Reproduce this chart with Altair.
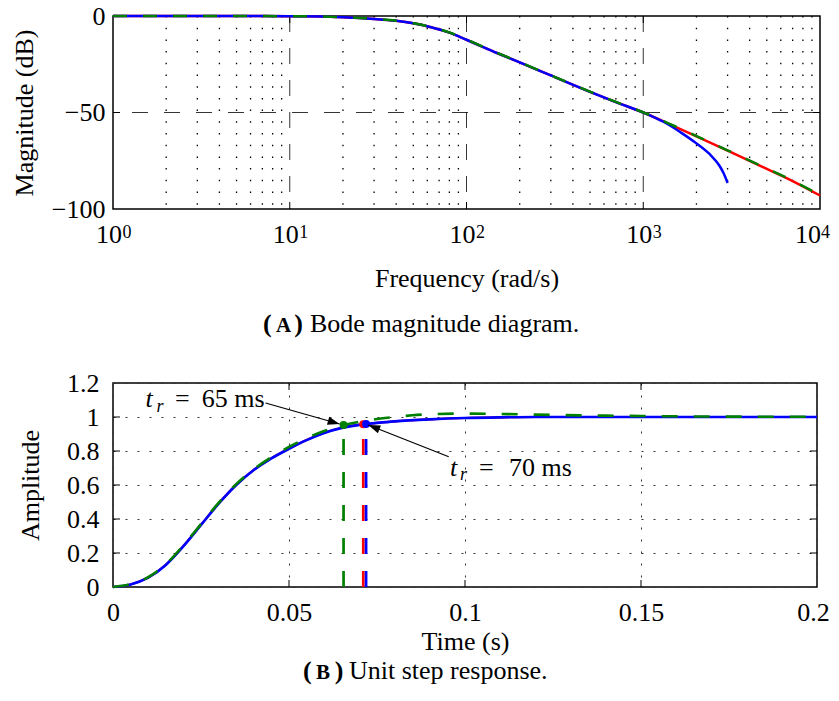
import math
import altair as alt
import pandas as pd

FONT = "Liberation Serif"

# ---------------- (A) Bode magnitude diagram ----------------
bode_freq = [1, 2, 5, 10, 15, 20, 25, 30, 40, 50, 63, 80, 100, 150, 200, 300,
             500, 700, 1000, 1500, 2000, 3000, 5000, 7000, 10000]
mag_red = [0, 0, -0.02, -0.1, -0.25, -0.6, -1.0, -1.5, -2.5, -3.8, -5.8, -8.6,
           -12.3, -19.3, -24.0, -30.8, -39.3, -44.6, -50.0, -57.2, -62.4,
           -69.8, -79.2, -85.5, -93.0]
mag_green = [0, 0, -0.02, -0.1, -0.25, -0.6, -1.0, -1.5, -2.5, -3.8, -5.7, -8.5,
             -12.2, -19.2, -23.9, -30.7, -39.2, -44.5, -49.9, -57.0, -62.2,
             -69.6, -79.0, -85.3, -92.8]
blue_freq = [1, 2, 5, 10, 15, 20, 25, 30, 40, 50, 63, 80, 100, 150, 200, 300,
             500, 700, 1000, 1300, 1660, 2000, 2370, 2700, 2850, 3000]
mag_blue = [0, 0, -0.02, -0.1, -0.25, -0.6, -1.0, -1.5, -2.5, -3.8, -5.8, -8.6,
            -12.3, -19.3, -24.0, -30.8, -39.3, -44.6, -50.0, -54.8, -60.8,
            -66.0, -71.5, -77.6, -81.5, -86.5]
decades = [1, 10, 100, 1000, 10000]
exponents = ["0", "1", "2", "3", "4"]
mag_ticks = [-100, -50, 0]
minor_freq = [m * d for d in decades[:4] for m in range(2, 10)]

# ---------------- (B) Unit step response ----------------
step_t = [0, 0.005, 0.01, 0.015, 0.02, 0.025, 0.03, 0.035, 0.04, 0.045, 0.05,
          0.055, 0.06, 0.065, 0.07, 0.072, 0.075, 0.08, 0.09, 0.1, 0.11, 0.12,
          0.14, 0.16, 0.18, 0.2]
step_blue = [0, 0.015, 0.055, 0.13, 0.24, 0.365, 0.49, 0.6, 0.688, 0.757,
             0.813, 0.864, 0.906, 0.936, 0.954, 0.959, 0.965, 0.974, 0.986,
             0.994, 0.998, 1.0, 1.0, 1.0, 1.0, 1.0]
step_red = [0, 0.015, 0.056, 0.131, 0.241, 0.366, 0.491, 0.601, 0.689, 0.758,
            0.814, 0.865, 0.907, 0.937, 0.955, 0.958, 0.965, 0.974, 0.986,
            0.994, 0.998, 1.0, 1.0, 1.0, 1.0, 1.0]
green_t = [0, 0.005, 0.01, 0.015, 0.02, 0.025, 0.03, 0.035, 0.04, 0.045, 0.05,
           0.055, 0.06, 0.065, 0.07, 0.075, 0.08, 0.085, 0.09, 0.1, 0.11, 0.12,
           0.14, 0.16, 0.18, 0.2]
step_green = [0, 0.017, 0.058, 0.134, 0.245, 0.37, 0.495, 0.605, 0.693, 0.764,
              0.824, 0.876, 0.918, 0.95, 0.972, 0.988, 1.0, 1.01, 1.016, 1.02,
              1.018, 1.014, 1.008, 1.004, 1.002, 1.001]
time_ticks = [0, 0.05, 0.1, 0.15, 0.2]
amp_ticks = [0, 0.2, 0.4, 0.6, 0.8, 1.0, 1.2]
rise_t = [0.0655, 0.0711, 0.0719]
rise_v = [0.953, 0.957, 0.959]
rise_colors = ["#008000", "#ff0000", "#0000ff"]

# annotation anchors (data coordinates)
label65 = (0.04306, 1.0588)
label70 = (0.09575, 0.6529)
arrow65 = (0.04334, 1.0824, 0.06439, 0.9588)
arrow70 = (0.09538, 0.7665, 0.07252, 0.9529)

W1, H1 = 707, 193
W2, H2 = 704, 204

RED, GREEN, BLUE = "#ff0000", "#008000", "#0000ff"

# ================= top chart =================
xs1 = alt.Scale(type="log", domain=[1, 10000])
ys1 = alt.Scale(domain=[-100, 0], nice=False)
ax_x1 = alt.Axis(values=decades, labelExpr="'10'",
                 labelOffset={"condition": {"test": "datum.value >= 10000",
                                            "value": -12.5},
                              "value": -4.5},
                 ticks=False, tickSize=0, domain=False, grid=False,
                 labelPadding=12.5, titlePadding=17.5, labelFlush=False,
                 labelOverlap=False)
ax_y1 = alt.Axis(values=mag_ticks, ticks=False, tickSize=0, domain=False,
                 grid=False, labelPadding=8, titlePadding=13.8,
                 labelOverlap=False)
TX1, TY1 = "Frequency (rad/s)", "Magnitude (dB)"


def X1(f="f:Q"):
    return alt.X(f, scale=xs1, axis=ax_x1, title=TX1)


def Y1(f="m:Q"):
    return alt.Y(f, scale=ys1, axis=ax_y1, title=TY1)


df_minor = pd.DataFrame({"f": minor_freq})
df_major = pd.DataFrame({"f": decades[1:4]})
df_dec = pd.DataFrame({"f": decades[:4], "e": exponents[:4]})
df_dec_last = pd.DataFrame({"f": decades[4:], "e": exponents[4:]})
df_m50 = pd.DataFrame({"m": [-50]})
one = pd.DataFrame({"k": [0]})

minor_grid = alt.Chart(df_minor).mark_rule(
    color="#000000", strokeWidth=1.3, strokeDash=[1.5, 10.2]).encode(x=X1())
major_grid_v = alt.Chart(df_major).mark_rule(
    color="#111111", strokeWidth=1, strokeDash=[16, 16], opacity=0.85).encode(x=X1())
major_grid_h = alt.Chart(df_m50).mark_rule(
    color="#111111", strokeWidth=1, strokeDash=[16, 16], opacity=0.85).encode(y=Y1())
tick_b1 = alt.Chart(df_major).mark_rule(color="black", strokeWidth=1).encode(
    x=X1(), y=alt.value(H1), y2=alt.value(H1 - 7))
tick_t1 = alt.Chart(df_major).mark_rule(color="black", strokeWidth=1).encode(
    x=X1(), y=alt.value(0), y2=alt.value(7))
tick_l1 = alt.Chart(df_m50).mark_rule(color="black", strokeWidth=1).encode(
    y=Y1(), x=alt.value(0), x2=alt.value(7))
tick_r1 = alt.Chart(df_m50).mark_rule(color="black", strokeWidth=1).encode(
    y=Y1(), x=alt.value(W1), x2=alt.value(W1 - 7))

red1 = alt.Chart(pd.DataFrame({"f": bode_freq, "m": mag_red})).mark_line(
    color=RED, strokeWidth=2.5, interpolate="monotone").encode(x=X1(), y=Y1())
blue1 = alt.Chart(pd.DataFrame({"f": blue_freq, "m": mag_blue})).mark_line(
    color=BLUE, strokeWidth=2.5, interpolate="monotone").encode(x=X1(), y=Y1())
green1 = alt.Chart(pd.DataFrame({"f": bode_freq, "m": mag_green})).mark_line(
    color=GREEN, strokeWidth=2.5, strokeDash=[14, 16],
    interpolate="monotone").encode(x=X1(), y=Y1())

exp_text = alt.Chart(df_dec).mark_text(
    font=FONT, fontSize=18, align="left", baseline="alphabetic", dx=9.5,
    color="black").encode(x=X1(), y=alt.value(221.6), text="e:N")
exp_last = alt.Chart(df_dec_last).mark_text(
    font=FONT, fontSize=18, align="left", baseline="alphabetic", dx=1.0,
    color="black").encode(x=X1(), y=alt.value(221.6), text="e:N")


def cap(text, x, y, size=26, weight="normal", align="left"):
    return alt.Chart(one).mark_text(
        text=text, font=FONT, fontSize=size, fontWeight=weight, align=align,
        baseline="alphabetic", color="black").encode(
        x=alt.value(x), y=alt.value(y))


# caption positions relative to the plot origin (113, 17)
capA = [cap("(", 150, 316, weight="bold"),
        cap("A", 170.5, 316, size=21, weight="bold", align="center"),
        cap(")", 190, 316, weight="bold", align="right"),
        cap("Bode magnitude diagram.", 197, 316)]

top = alt.layer(minor_grid, major_grid_v, major_grid_h, tick_b1, tick_t1,
                tick_l1, tick_r1, red1, blue1, green1, exp_text, exp_last,
                *capA).properties(width=W1, height=H1)

# ================= bottom chart =================
xs2 = alt.Scale(domain=[0, 0.2], nice=False)
ys2 = alt.Scale(domain=[0, 1.2], nice=False)
ax_x2 = alt.Axis(values=time_ticks, format="~g", ticks=False, tickSize=0,
                 labelOffset={"condition": {"test": "datum.value >= 0.2",
                                            "value": -4},
                              "value": 0},
                 domain=False, grid=True, gridDash=[2, 10], gridColor="#333333",
                 gridWidth=1, labelPadding=12, titlePadding=3.5,
                 labelFlush=False, labelOverlap=False)
ax_y2 = alt.Axis(values=amp_ticks, format="~g", ticks=False, tickSize=0,
                 domain=False, grid=True, gridDash=[2, 10], gridColor="#333333",
                 gridWidth=1, labelPadding=14, titlePadding=23,
                 labelOverlap=False)
TX2, TY2 = "Time (s)", "Amplitude"


def X2(f="t:Q"):
    return alt.X(f, scale=xs2, axis=ax_x2, title=TX2)


def Y2(f="v:Q"):
    return alt.Y(f, scale=ys2, axis=ax_y2, title=TY2)


df_xt = pd.DataFrame({"t": time_ticks[1:4]})
df_yt = pd.DataFrame({"v": amp_ticks[1:6]})
tick_b2 = alt.Chart(df_xt).mark_rule(color="black", strokeWidth=1).encode(
    x=X2(), y=alt.value(H2), y2=alt.value(H2 - 7))
tick_t2 = alt.Chart(df_xt).mark_rule(color="black", strokeWidth=1).encode(
    x=X2(), y=alt.value(0), y2=alt.value(7))
tick_l2 = alt.Chart(df_yt).mark_rule(color="black", strokeWidth=1).encode(
    y=Y2(), x=alt.value(0), x2=alt.value(7))
tick_r2 = alt.Chart(df_yt).mark_rule(color="black", strokeWidth=1).encode(
    y=Y2(), x=alt.value(W2), x2=alt.value(W2 - 7))

red2 = alt.Chart(pd.DataFrame({"t": step_t, "v": step_red})).mark_line(
    color=RED, strokeWidth=2.2, interpolate="monotone").encode(x=X2(), y=Y2())
blue2 = alt.Chart(pd.DataFrame({"t": step_t, "v": step_blue})).mark_line(
    color=BLUE, strokeWidth=2.7, interpolate="monotone").encode(x=X2(), y=Y2())
green2 = alt.Chart(pd.DataFrame({"t": green_t, "v": step_green})).mark_line(
    color=GREEN, strokeWidth=2.6, strokeDash=[16, 16],
    interpolate="monotone").encode(x=X2(), y=Y2())

rise_layers = []
for t, v, c in zip(rise_t, rise_v, rise_colors):
    d = pd.DataFrame({"t": [t], "z": [0.0], "v": [v]})
    rise_layers.append(alt.Chart(d).mark_rule(
        color=c, strokeWidth=2.7, strokeDash=[16, 17]).encode(
        x=X2(), y=Y2("z:Q"), y2="v:Q"))
dot_layers = []
for t, v, c in [(rise_t[1], rise_v[1], RED), (rise_t[2], rise_v[2], BLUE),
                (rise_t[0], rise_v[0], GREEN)]:
    d = pd.DataFrame({"t": [t], "v": [v]})
    dot_layers.append(alt.Chart(d).mark_point(
        shape="circle", filled=True, size=64, opacity=1, color=c,
        strokeWidth=0).encode(x=X2(), y=Y2()))

ARROW = "M0,0 L-2,-0.7 L-2,0.7 Z"
arrow_layers = []
for (t0, v0, t1, v1) in [arrow65, arrow70]:
    dxp = (t1 - t0) / 0.2 * W2
    dyp = -(v1 - v0) / 1.2 * H2
    ang = math.degrees(math.atan2(dyp, dxp)) % 360
    d = pd.DataFrame({"t": [t0], "v": [v0], "t1": [t1], "v1": [v1]})
    arrow_layers.append(alt.Chart(d).mark_rule(
        color="black", strokeWidth=1.2).encode(
        x=X2(), y=Y2(), x2="t1:Q", y2="v1:Q"))
    arrow_layers.append(alt.Chart(d).mark_point(
        shape=ARROW, filled=True, size=144, opacity=1, color="black",
        strokeWidth=0, angle=ang).encode(x=X2("t1:Q"), y=Y2("v1:Q")))


def ann(pos, text, dx, dy=0, size=26, style="normal", align="left"):
    d = pd.DataFrame({"t": [pos[0]], "v": [pos[1]]})
    return alt.Chart(d).mark_text(
        text=text, font=FONT, fontSize=size, fontStyle=style, align=align,
        baseline="alphabetic", dx=dx, dy=dy, color="black").encode(
        x=X2(), y=Y2())


ann_layers = [
    ann(label65, "t", -119, style="italic"),
    ann(label65, "r", -108, dy=5, size=18, style="italic"),
    ann(label65, "=", -75, align="right"),
    ann(label65, "65 ms", 0, align="right"),
    ann(label70, "t", 0, style="italic"),
    ann(label70, "r", 10, dy=4, size=18, style="italic"),
    ann(label70, "=", 29),
    ann(label70, "70 ms", 59),
]

# caption positions relative to the plot origin (113, 383)
capB = [cap("(", 190, 295.5, weight="bold"),
        cap("B", 210, 295.5, size=21, weight="bold", align="center"),
        cap(")", 230.5, 295.5, weight="bold", align="right"),
        cap("Unit step response.", 236, 295.5)]

bottom = alt.layer(tick_b2, tick_t2, tick_l2, tick_r2, red2, blue2, green2,
                   *rise_layers, *dot_layers, *arrow_layers, *ann_layers,
                   *capB).properties(width=W2, height=H2)

chart = alt.vconcat(top, bottom, spacing=31).properties(
    padding={"left": 2, "top": -6, "right": 0, "bottom": 0}
).configure_view(stroke="black", strokeWidth=1.5).configure_axis(
    labelFont=FONT, titleFont=FONT, labelFontSize=26, titleFontSize=26,
    titleFontWeight="normal", labelColor="black", titleColor="black")

chart.save("out.html", embed_options={"renderer": "svg", "actions": False})
